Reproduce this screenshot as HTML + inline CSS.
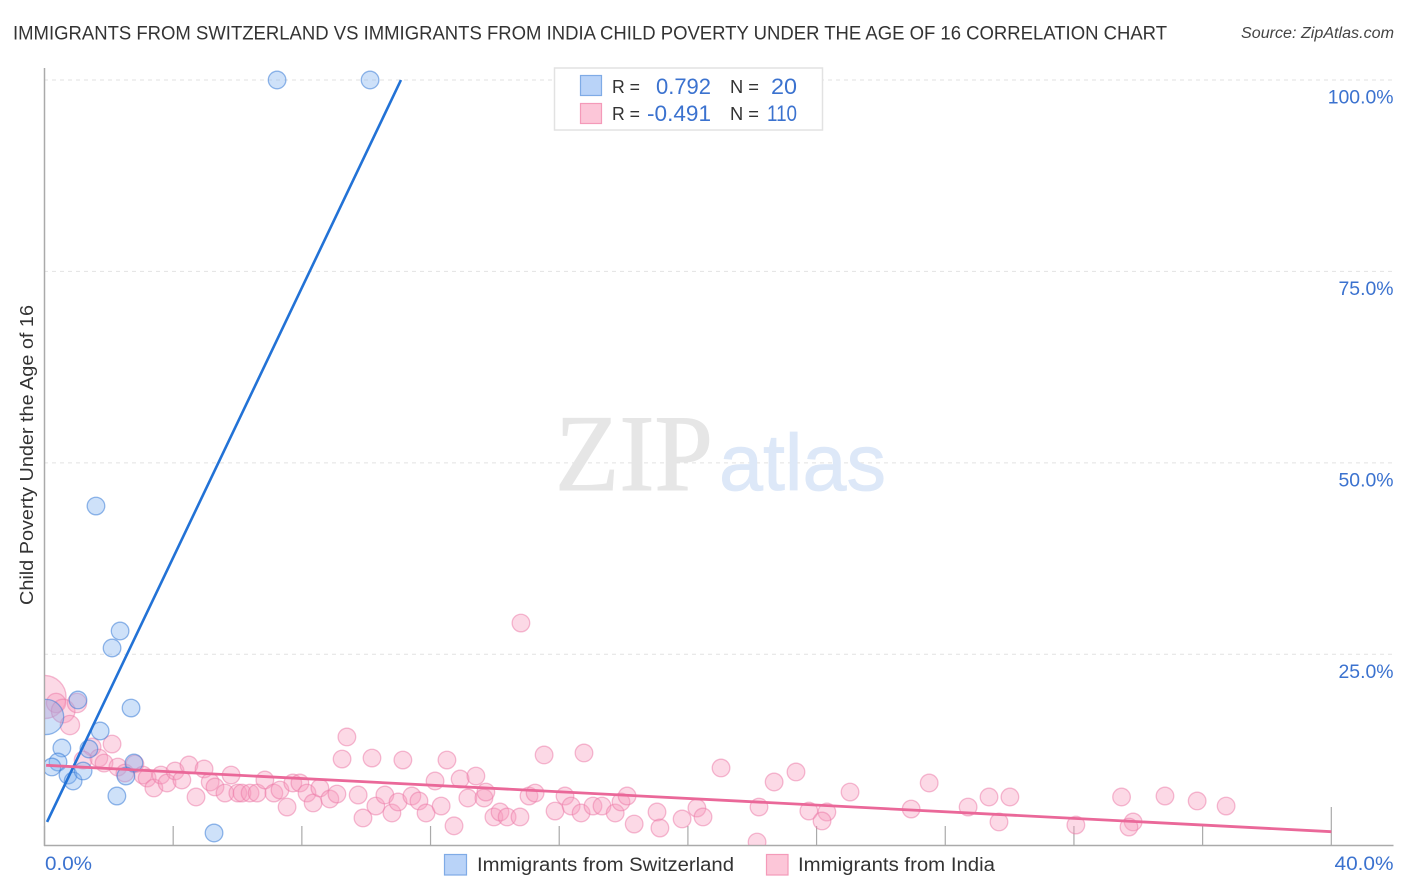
<!DOCTYPE html>
<html lang="en">
<head>
<meta charset="utf-8">
<title>Immigrants from Switzerland vs Immigrants from India Child Poverty Correlation Chart</title>
<style>
html,body{margin:0;padding:0;background:#fff;}
svg{display:block;font-family:"Liberation Sans",Arial,sans-serif;}
</style>
</head>
<body>
<svg id="chart" width="1406" height="892" viewBox="0 0 1406 892" xmlns="http://www.w3.org/2000/svg">
  <defs><clipPath id="plot-clip"><rect x="45" y="68" width="1350" height="777"/></clipPath></defs>
  <rect x="0" y="0" width="1406" height="892" fill="#ffffff"/>
  <text x="13" y="39.5" font-size="19.6" fill="#333333" textLength="1154" lengthAdjust="spacingAndGlyphs">IMMIGRANTS FROM SWITZERLAND VS IMMIGRANTS FROM INDIA CHILD POVERTY UNDER THE AGE OF 16 CORRELATION CHART</text>
  <text x="1394" y="38" font-size="15.5" font-style="italic" fill="#444444" text-anchor="end" textLength="153" lengthAdjust="spacingAndGlyphs">Source: ZipAtlas.com</text>
  <g id="grid"></g>
  <g>
    <text x="555" y="490" font-family="'Liberation Serif',serif" font-size="109" fill="#e6e6e6" stroke="#e6e6e6" stroke-width="1" textLength="158" lengthAdjust="spacingAndGlyphs">ZIP</text>
    <text x="719" y="490" font-size="80" fill="#dde8f8" stroke="#dde8f8" stroke-width="0.8" textLength="167" lengthAdjust="spacingAndGlyphs">atlas</text>
  </g>
  <g id="axes"></g>
  <g id="marks" clip-path="url(#plot-clip)"></g>
  <text transform="translate(33,455) rotate(-90)" font-size="18.5" fill="#333333" text-anchor="middle" textLength="300" lengthAdjust="spacingAndGlyphs">Child Poverty Under the Age of 16</text>
  <g>
    <rect x="554.5" y="68" width="268" height="62" fill="#ffffff" stroke="#e2e2e2" stroke-width="1.5"/>
    <rect x="580.5" y="75.5" width="21" height="20" fill="#b9d3f8" stroke="#7fabe6" stroke-width="1.2"/>
    <rect x="580.5" y="103.5" width="21" height="20" fill="#fcc6d8" stroke="#f49ab9" stroke-width="1.2"/>
    <text x="612" y="93" font-size="18.5" fill="#333333" textLength="28" lengthAdjust="spacingAndGlyphs">R =</text>
    <text x="711" y="94" font-size="22" fill="#3b72cf" text-anchor="end" textLength="55" lengthAdjust="spacingAndGlyphs">0.792</text>
    <text x="730" y="93" font-size="18.5" fill="#333333" textLength="29" lengthAdjust="spacingAndGlyphs">N =</text>
    <text x="797" y="94" font-size="22" fill="#3b72cf" text-anchor="end" textLength="26" lengthAdjust="spacingAndGlyphs">20</text>
    <text x="612" y="120" font-size="18.5" fill="#333333" textLength="28" lengthAdjust="spacingAndGlyphs">R =</text>
    <text x="711" y="121" font-size="22" fill="#3b72cf" text-anchor="end" textLength="64" lengthAdjust="spacingAndGlyphs">-0.491</text>
    <text x="730" y="120" font-size="18.5" fill="#333333" textLength="29" lengthAdjust="spacingAndGlyphs">N =</text>
    <text x="797" y="121" font-size="22" fill="#3b72cf" text-anchor="end" textLength="30" lengthAdjust="spacingAndGlyphs">110</text>
  </g>
  <g>
    <rect x="444.5" y="854.5" width="22" height="20.5" fill="#b9d3f8" stroke="#7fabe6" stroke-width="1.2"/>
    <text x="477" y="871" font-size="19.6" fill="#333333" textLength="257" lengthAdjust="spacingAndGlyphs">Immigrants from Switzerland</text>
    <rect x="766.5" y="854.5" width="21.5" height="20.5" fill="#fcc6d8" stroke="#f49ab9" stroke-width="1.2"/>
    <text x="798" y="871" font-size="19.6" fill="#333333" textLength="197" lengthAdjust="spacingAndGlyphs">Immigrants from India</text>
  </g>
</svg>
<script>
const xTickValues = [0, 4, 8, 12, 16, 20, 24, 28, 32, 36, 40];
const xTickLabels = ["0.0%", "40.0%"];
const yTickValues = [25, 50, 75, 100];
const yTickLabels = ["25.0%", "50.0%", "75.0%", "100.0%"];

const blueX = [0.05,1.04,2.69,1.73,1.38,0.54,0.42,0.23,0.73,0.89,1.20,2.78,2.53,2.25,5.27,2.10,2.35,1.60,7.23,10.12];
const blueY = [16.81,19.03,17.98,14.98,12.63,12.76,10.93,10.28,9.23,8.45,9.76,10.80,9.10,6.49,1.66,25.82,28.04,44.36,100,100];
const blueWeight = [4,1,1,1,1,1,1,1,1,1,1,1,1,1,1,1,1,1,1,1];

const pinkX = [0,0.36,0.58,1.01,0.79,1.48,2.10,1.20,1.69,1.85,2.28,2.50,2.81,3.06,3.19,3.40,3.62,3.81,4.06,4.27,4.49,4.71,4.96,5.15,5.30,5.61,5.80,6.01,6.14,6.39,6.61,6.85,7.13,7.32,7.54,7.72,7.94,8.16,8.35,8.56,8.87,9.09,9.25,9.40,9.75,10.18,9.90,10.30,10.58,10.80,10.99,11.14,11.42,11.64,11.86,12.14,12.33,12.51,12.73,12.92,13.16,13.41,13.66,13.72,13.97,14.16,14.38,14.78,15.06,15.25,15.53,15.87,16.18,16.37,16.68,16.77,17.05,17.33,17.74,17.92,18.11,18.33,19.04,19.13,19.82,20.28,20.47,21.03,22.15,22.21,22.68,23.36,23.76,24.32,24.17,25.04,26.94,27.50,28.71,29.36,30.01,29.67,32.06,33.48,34.83,35.83,36.73,33.84,33.71,14.81];
const pinkY = [19.42,18.64,17.59,18.64,15.76,12.89,13.28,11.19,11.45,10.79,10.27,9.49,10.67,9.23,8.84,7.54,9.23,8.19,9.76,8.58,10.54,6.36,10.02,8.32,7.67,6.88,9.23,6.88,6.88,6.88,6.88,8.58,6.88,7.27,5.05,8.19,8.19,6.88,5.58,7.54,6.10,6.75,11.32,14.20,6.62,11.45,3.62,5.18,6.62,4.27,5.71,11.19,6.49,5.84,4.27,8.45,5.18,11.19,2.59,8.71,6.23,9.10,6.23,7.01,3.75,4.40,3.75,3.75,6.49,6.88,11.85,4.53,6.49,5.18,4.27,12.11,5.18,5.18,4.27,5.71,6.49,2.83,4.40,2.31,3.49,4.92,3.75,10.15,0.48,5.05,8.32,9.63,4.53,4.40,3.23,7.01,4.79,8.19,5.05,6.36,6.36,3.10,2.70,6.36,6.49,5.84,5.18,3.10,2.44,29.08];
const pinkWeight = [6,1.2,1.8,1.2,1.2];

const blueTrendX = [0.08, 11.08];
const blueTrendY = [3.1, 100];
const pinkTrendX = [0.05, 40];
const pinkTrendY = [10.5, 1.83];

const SVG_NS = "http://www.w3.org/2000/svg";
const axisX0 = 44.5, axisXScale = 32.17, axisY0 = 845.7, axisYScale = 7.657;
function xPos(v) { return axisX0 + v * axisXScale; }
function yPos(v) { return axisY0 - v * axisYScale; }
function make(tag, attrs, parent) {
  const el = document.createElementNS(SVG_NS, tag);
  for (const k in attrs) el.setAttribute(k, attrs[k]);
  parent.appendChild(el);
  return el;
}
const grid = document.getElementById("grid");
const axes = document.getElementById("axes");
const marks = document.getElementById("marks");

yTickValues.forEach((v, i) => {
  const line = make("line", {x1: 44, x2: 1393, y1: yPos(v), y2: yPos(v), stroke: "#e2e2e2", "stroke-width": 1, "stroke-dasharray": "4 4"}, grid);
  
  
  const label = make("text", {x: 1393.5, y: yPos(v) + 23.5, "font-size": 19.4, fill: "#3b72cf", "text-anchor": "end"}, axes);
  label.textContent = yTickLabels[i];
  
  
});

const yAxis = make("line", {x1: 44.5, x2: 44.5, y1: 68, y2: 846, stroke: "#aaaaaa", "stroke-width": 1.5}, axes);


const xAxis = make("line", {x1: 44, x2: 1393.5, y1: 845.5, y2: 845.5, stroke: "#aaaaaa", "stroke-width": 1.5}, axes);



xTickValues.forEach((v, i) => {
  const last = i === xTickValues.length - 1;
  const tick = make("line", {x1: xPos(v), x2: xPos(v), y1: last ? 807 : 826, y2: 845.5, stroke: "#aaaaaa", "stroke-width": 1.2}, axes);
  
  
});
const xLabelFirst = make("text", {x: 45, y: 870, "font-size": 19.4, fill: "#3b72cf", textLength: 47, lengthAdjust: "spacingAndGlyphs"}, axes);
xLabelFirst.textContent = xTickLabels[0];


const xLabelLast = make("text", {x: 1393.5, y: 870, "font-size": 19.4, fill: "#3b72cf", "text-anchor": "end", textLength: 59, lengthAdjust: "spacingAndGlyphs"}, axes);
xLabelLast.textContent = xTickLabels[1];



pinkX.forEach((v, i) => {
  const w = pinkWeight[i] || 1;
  const c = make("circle", {cx: xPos(v), cy: yPos(pinkY[i]), r: 8.8 * Math.sqrt(w), fill: "rgba(246,155,188,0.38)", stroke: "rgba(236,120,165,0.5)", "stroke-width": 1.3}, marks);
  
  
});
blueX.forEach((v, i) => {
  const w = blueWeight[i] || 1;
  const c = make("circle", {cx: xPos(v), cy: yPos(blueY[i]), r: 8.8 * Math.sqrt(w), fill: "rgba(125,175,240,0.38)", stroke: "rgba(60,125,215,0.55)", "stroke-width": 1.3}, marks);
  
  
});
const blueLine = make("line", {x1: xPos(blueTrendX[0]), y1: yPos(blueTrendY[0]), x2: xPos(blueTrendX[1]), y2: yPos(blueTrendY[1]), stroke: "#2272d6", "stroke-width": 2.6}, marks);


const pinkLine = make("line", {x1: xPos(pinkTrendX[0]), y1: yPos(pinkTrendY[0]), x2: xPos(pinkTrendX[1]), y2: yPos(pinkTrendY[1]), stroke: "#ea6899", "stroke-width": 2.8}, marks);


</script>
</body>
</html>
